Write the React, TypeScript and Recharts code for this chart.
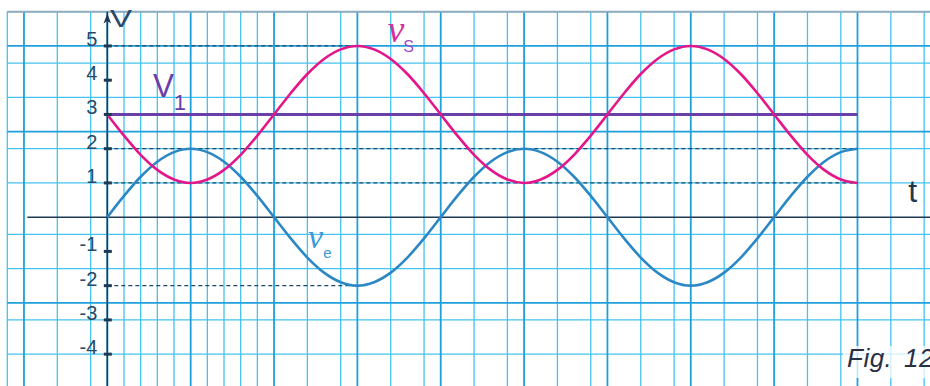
import React from 'react';
import {
  LineChart,
  Line,
  XAxis,
  YAxis,
  CartesianGrid,
  ReferenceLine,
  ReferenceDot,
} from 'recharts';

// Time measured in grid cells; one full period spans 20 cells.
const times = [
  0, 1, 2, 3, 4, 5, 6, 7, 8, 9, 10, 11, 12, 13, 14, 15, 16, 17, 18, 19, 20, 21, 22,
  23, 24, 25, 26, 27, 28, 29, 30, 31, 32, 33, 34, 35, 36, 37, 38, 39, 40, 41, 42,
  43, 44, 45,
];

// Input voltage ve (V)
const veValues = [
  0, 0.62, 1.18, 1.62, 1.9, 2, 1.9, 1.62, 1.18, 0.62, 0, -0.62, -1.18, -1.62, -1.9,
  -2, -1.9, -1.62, -1.18, -0.62, 0, 0.62, 1.18, 1.62, 1.9, 2, 1.9, 1.62, 1.18, 0.62,
  0, -0.62, -1.18, -1.62, -1.9, -2, -1.9, -1.62, -1.18, -0.62, 0, 0.62, 1.18, 1.62,
  1.9, 2,
];

// Output voltage vs (V)
const vsValues = [
  3, 2.38, 1.82, 1.38, 1.1, 1, 1.1, 1.38, 1.82, 2.38, 3, 3.62, 4.18, 4.62, 4.9, 5,
  4.9, 4.62, 4.18, 3.62, 3, 2.38, 1.82, 1.38, 1.1, 1, 1.1, 1.38, 1.82, 2.38, 3, 3.62,
  4.18, 4.62, 4.9, 5, 4.9, 4.62, 4.18, 3.62, 3, 2.38, 1.82, 1.38, 1.1, 1,
];

// Constant bias level V1 (V)
const v1Level = 3;

// Labelled values on the vertical axis
const yTickValues = [5, 4, 3, 2, 1, -1, -2, -3, -4];

// Dashed reference levels and the time where each one stops
const guideLevels = [5, 2, 1, -2];
const guideEnds = [15, 45, 45, 15];

const X_MIN = -6;
const X_MAX = 49.35;
const Y_MIN = -4.93;
const Y_MAX = 6;

const rows = times.map((t, i) => ({
  t,
  ve: veValues[i],
  vs: vsValues[i],
  v1: v1Level,
}));

// Graph-paper rulings: one cell per time unit and per half volt, heavier every 5 cells.
const minorX: number[] = [];
const majorX: number[] = [];
for (let t = Math.ceil(X_MIN); t <= Math.floor(X_MAX); t++) {
  if (t % 5 === 0) majorX.push(t);
  else minorX.push(t);
}
const minorY: number[] = [];
const majorY: number[] = [];
for (let k = Math.ceil(Y_MIN * 2); k <= Math.floor(Y_MAX * 2); k++) {
  if (k % 5 === 0) {
    if (k !== 0) majorY.push(k / 2);
  } else minorY.push(k / 2);
}

const AXIS_COLOR = '#1f3953';
const LABEL_COLOR = '#2a4868';
const GUIDE_COLOR = '#1e4a68';

const textAt = (
  key: string,
  x: number,
  y: number,
  content: string,
  style: Record<string, any>
) => (
  <ReferenceDot
    key={key}
    x={x}
    y={y}
    r={0}
    ifOverflow="visible"
    shape={(p: any) => (
      <text x={p.cx} y={p.cy} {...style}>
        {content}
      </text>
    )}
  />
);

export default function App() {
  return (
    <div
      style={{
        position: 'absolute',
        left: 0,
        top: 0,
        width: 930,
        height: 386,
        background: '#ffffff',
        overflow: 'hidden',
      }}
    >
      <LineChart
        width={930}
        height={386}
        data={rows}
        margin={{ top: 11.7, right: 0, bottom: 0, left: 7.3 }}
      >
        <XAxis
          type="number"
          dataKey="t"
          domain={[X_MIN, X_MAX]}
          allowDataOverflow
          hide
        />
        <YAxis type="number" domain={[Y_MIN, Y_MAX]} allowDataOverflow hide />

        <CartesianGrid
          horizontalValues={minorY}
          verticalValues={minorX}
          stroke="#45c2ef"
          strokeWidth={1.3}
        />
        <CartesianGrid
          horizontalValues={majorY}
          verticalValues={majorX}
          stroke="#1f9fdc"
          strokeWidth={1.8}
        />

        {/* upper edge of the sheet */}
        <ReferenceLine y={Y_MAX} stroke="#8fabc0" strokeWidth={2} ifOverflow="visible" />

        {/* dashed level guides */}
        {guideLevels.map((v, i) => (
          <ReferenceLine
            key={`g${v}`}
            segment={[
              { x: 0, y: v },
              { x: guideEnds[i], y: v },
            ]}
            stroke={GUIDE_COLOR}
            strokeWidth={1.3}
            strokeDasharray="4 3"
          />
        ))}

        {/* axes */}
        <ReferenceLine
          segment={[
            { x: -4.8, y: 0 },
            { x: X_MAX, y: 0 },
          ]}
          stroke={AXIS_COLOR}
          strokeWidth={1.5}
          ifOverflow="visible"
        />
        <ReferenceLine x={0} stroke={AXIS_COLOR} strokeWidth={1.5} />
        <ReferenceDot
          x={0}
          y={5.95}
          r={0}
          ifOverflow="visible"
          shape={(p: any) => (
            <path
              d={`M${p.cx},${p.cy} L${p.cx - 3.8},${p.cy + 10} L${p.cx},${p.cy + 7.5} L${p.cx + 3.8},${p.cy + 10} Z`}
              fill={AXIS_COLOR}
            />
          )}
        />

        {/* tick marks and labels on the vertical axis */}
        {yTickValues.map((v) => (
          <ReferenceDot
            key={`t${v}`}
            x={0}
            y={v}
            r={0}
            ifOverflow="visible"
            shape={(p: any) => (
              <g>
                <rect x={p.cx - 3.5} y={p.cy - 1.5} width={8} height={3} fill={AXIS_COLOR} />
                <text
                  x={p.cx - 10}
                  y={p.cy}
                  textAnchor="end"
                  fontFamily="'Liberation Sans', Arial, sans-serif"
                  fontSize={20}
                  fill={LABEL_COLOR}
                >
                  {String(v)}
                </text>
              </g>
            )}
          />
        ))}

        <Line
          dataKey="v1"
          type="linear"
          stroke="#6a3fa7"
          strokeWidth={3}
          dot={false}
          isAnimationActive={false}
        />
        <Line
          dataKey="ve"
          type="monotone"
          stroke="#2b88c5"
          strokeWidth={2.6}
          dot={false}
          isAnimationActive={false}
        />
        <Line
          dataKey="vs"
          type="monotone"
          stroke="#e3168b"
          strokeWidth={2.6}
          dot={false}
          isAnimationActive={false}
        />

        {/* axis titles */}
        {textAt('ylab', 0.16, 5.54, 'V', {
          fontFamily: "'Liberation Sans', Arial, sans-serif",
          fontSize: 24,
          fill: LABEL_COLOR,
          textLength: 22,
          lengthAdjust: 'spacingAndGlyphs',
        })}
        {textAt('xlab', 48.04, 0.44, 't', {
          fontFamily: "'Liberation Sans', Arial, sans-serif",
          fontSize: 32,
          fill: AXIS_COLOR,
        })}

        {/* series names */}
        {textAt('v1a', 2.74, 3.5, 'V', {
          fontFamily: "'Liberation Sans', Arial, sans-serif",
          fontSize: 33,
          fill: '#6a3fa7',
          textLength: 21,
          lengthAdjust: 'spacingAndGlyphs',
        })}
        {textAt('v1b', 3.98, 3.12, '1', {
          fontFamily: "'Liberation Sans', Arial, sans-serif",
          fontSize: 22,
          fill: '#6a3fa7',
        })}
        {textAt('vsa', 16.8, 5.11, 'v', {
          fontFamily: "'Liberation Serif', 'DejaVu Serif', serif",
          fontStyle: 'italic',
          fontSize: 38,
          fill: '#d6309f',
        })}
        {textAt('vsb', 17.75, 4.81, 'S', {
          fontFamily: "'Liberation Sans', Arial, sans-serif",
          fontSize: 16,
          fill: '#9c4fc6',
        })}
        {textAt('vea', 12.04, -0.9, 'v', {
          fontFamily: "'Liberation Serif', 'DejaVu Serif', serif",
          fontStyle: 'italic',
          fontSize: 34,
          fill: '#3b9ad6',
        })}
        {textAt('veb', 12.95, -1.19, 'e', {
          fontFamily: "'Liberation Sans', Arial, sans-serif",
          fontSize: 15,
          fill: '#3b9ad6',
        })}
      </LineChart>

      <div
        style={{
          position: 'absolute',
          left: 843,
          top: 346,
          width: 100,
          height: 32,
          background: 'rgba(255,255,255,0.75)',
        }}
      />
      <div
        style={{
          position: 'absolute',
          left: 847,
          top: 343,
          whiteSpace: 'nowrap',
          fontFamily: "'Liberation Sans', Arial, sans-serif",
          fontStyle: 'italic',
          fontSize: 26,
          letterSpacing: 0.5,
          wordSpacing: 4,
          color: '#2a3046',
          lineHeight: '30px',
        }}
      >
        Fig. 12
      </div>
    </div>
  );
}
